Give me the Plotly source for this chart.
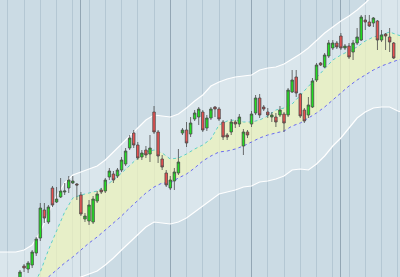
import plotly.graph_objects as go

# ---- data ----
day = list(range(93))
open_ = [39.6, 41.1, 40.8, 41.2, 42.4, 43.9, 46.7, 45.5, 48.9, 47.5,
         48.0, 48.5, 48.9, 49.4, 49.3, 48.2, 45.8, 45.6, 45.5, 47.6,
         48.7, 48.6, 50.0, 50.3, 50.1, 50.7, 51.3, 52.9, 54.4, 53.2,
         52.0, 52.7, 52.3, 56.5, 54.5, 51.8, 50.4, 48.9, 49.6, 50.4,
         54.4, 54.7, 54.3, 55.8, 56.0, 56.5, 54.9, 55.9, 57.0, 56.8,
         55.5, 54.2, 54.5, 55.5, 55.3, 53.1, 54.5, 55.3, 56.4, 57.9,
         57.0, 56.5, 56.0, 56.0, 56.2, 56.3, 56.2, 58.5, 60.0, 58.3,
         56.7, 56.2, 57.0, 59.7, 61.4, 61.0, 62.1, 62.9, 63.4, 64.1,
         62.9, 63.1, 62.5, 63.4, 63.7, 65.7, 65.5, 65.4, 65.6, 63.7,
         64.3, 64.0, 63.4]
high = [40.7, 41.3, 41.6, 42.7, 44.0, 47.4, 47.4, 47.2, 49.1, 49.0,
        49.9, 49.4, 50.1, 50.1, 49.4, 48.5, 46.4, 47.7, 48.1, 48.6,
        48.9, 49.9, 50.9, 50.6, 50.9, 52.0, 52.9, 54.2, 54.7, 53.5,
        52.7, 53.1, 54.2, 57.1, 54.7, 52.2, 50.7, 50.1, 50.9, 52.8,
        54.9, 55.5, 56.0, 56.7, 57.0, 56.7, 56.2, 57.0, 57.1, 57.0,
        55.7, 54.4, 55.8, 55.7, 56.3, 54.8, 54.7, 56.6, 58.2, 58.3,
        57.2, 56.9, 56.5, 56.4, 57.1, 56.5, 58.9, 60.7, 60.7, 58.4,
        56.9, 58.0, 59.9, 61.4, 61.5, 62.4, 63.7, 63.7, 63.6, 64.4,
        63.3, 63.4, 63.7, 64.9, 66.2, 66.2, 66.2, 66.0, 65.7, 64.7,
        64.4, 64.9, 63.5]
low = [39.3, 40.5, 40.4, 40.9, 42.1, 43.6, 45.4, 45.3, 47.0, 47.4,
       47.9, 48.2, 48.4, 49.3, 47.7, 46.1, 45.5, 45.2, 45.3, 47.4,
       48.3, 48.4, 49.7, 49.4, 49.9, 50.5, 51.1, 52.7, 52.9, 51.7,
       51.7, 51.9, 51.5, 54.3, 51.4, 50.7, 49.0, 48.7, 48.7, 50.2,
       54.2, 53.0, 54.0, 55.6, 55.2, 54.5, 54.6, 55.7, 56.0, 55.6,
       53.7, 53.7, 54.2, 54.9, 55.0, 52.2, 53.9, 55.0, 56.2, 55.9,
       56.6, 55.9, 55.5, 55.0, 56.0, 54.5, 56.0, 58.4, 58.0, 55.9,
       55.4, 55.9, 56.9, 59.5, 61.1, 60.9, 61.9, 62.7, 62.8, 62.7,
       62.7, 61.8, 61.7, 63.2, 63.6, 64.7, 65.0, 65.0, 62.7, 63.5,
       62.7, 62.5, 61.8]
close = [40.5, 40.9, 41.4, 42.5, 43.8, 46.9, 45.9, 47.0, 47.2, 47.8,
         48.6, 48.6, 49.7, 49.6, 49.2, 46.3, 46.1, 47.2, 47.8, 48.3,
         48.5, 49.7, 50.6, 49.7, 50.7, 51.7, 52.6, 53.9, 53.2, 51.9,
         52.4, 52.2, 52.9, 54.5, 52.1, 51.0, 49.2, 49.7, 50.5, 51.5,
         54.7, 53.4, 55.4, 56.4, 56.8, 54.7, 55.9, 56.8, 56.8, 55.8,
         54.0, 54.0, 55.5, 55.3, 56.0, 54.5, 54.2, 56.3, 57.9, 56.2,
         56.8, 56.2, 56.2, 55.5, 56.7, 55.4, 58.7, 59.7, 58.4, 56.1,
         55.6, 57.2, 59.6, 61.2, 61.2, 62.2, 63.4, 63.4, 63.0, 62.9,
         63.1, 62.0, 63.4, 64.0, 66.0, 65.5, 65.1, 65.9, 63.7, 64.2,
         64.1, 63.5, 61.9]

band_x = list(range(-5, 96, 2))
upper_env = [42.5, 42.5, 42.5, 42.7, 43.2, 44.5, 46.4, 48.1, 49.4, 50.2,
             50.5, 50.8, 51.1, 51.7, 52.5, 53.3, 54.2, 55.0, 55.7, 56.2,
             56.1, 56.0, 56.3, 56.9, 57.6, 58.2, 59.1, 59.5, 59.8, 60.0,
             60.1, 60.2, 60.7, 60.9, 61.0, 61.3, 61.8, 62.3, 62.9, 63.7,
             64.4, 65.0, 65.6, 66.1, 66.7, 67.4, 68.2, 68.7, 69.1, 69.3, 69.5]
lower_env = [32.0, 32.0, 32.0, 32.2, 32.7, 34.0, 35.9, 37.6, 38.9, 39.7,
             40.0, 40.3, 40.6, 41.2, 41.9, 42.7, 43.5, 44.3, 45.0, 45.5,
             45.4, 45.3, 45.5, 45.9, 46.5, 47.1, 47.7, 48.3, 48.5, 48.7,
             49.0, 49.1, 49.5, 49.6, 49.8, 50.1, 50.7, 50.8, 50.7, 51.3,
             52.1, 53.1, 53.9, 54.9, 55.9, 56.5, 56.9, 57.0, 57.0, 56.6, 56.4]
upper_inner = [34.7, 35.7, 36.7, 37.7, 38.9, 40.5, 42.7, 44.7, 46.5, 47.9,
               48.2, 48.4, 48.6, 49.1, 49.7, 50.4, 51.2, 51.9, 52.5, 52.7,
               52.4, 51.8, 51.9, 52.3, 52.8, 53.2, 53.8, 55.2, 55.6, 55.7,
               55.5, 55.5, 55.7, 56.1, 56.7, 56.9, 57.3, 58.2, 59.1, 60.0,
               60.9, 61.7, 62.2, 62.6, 63.0, 63.6, 64.0, 64.2, 64.5, 64.2, 64.0]
lower_inner = [34.7, 35.5, 36.3, 37.2, 38.1, 39.0, 40.0, 40.7, 41.4, 42.0,
               42.7, 43.4, 44.0, 44.7, 45.4, 46.1, 46.9, 47.7, 48.4, 49.0,
               49.4, 49.4, 49.9, 50.3, 50.9, 51.6, 52.1, 52.5, 52.6, 52.8,
               53.1, 53.5, 53.9, 54.2, 54.4, 54.6, 55.1, 55.4, 55.9, 56.4,
               57.0, 57.7, 58.4, 59.1, 59.7, 60.2, 60.7, 61.1, 61.4, 61.7, 61.9]

week_ticks = list(range(-3, 94, 4))
month_ticks = [15, 37, 57, 79]

X_RANGE = [-4.92, 93.55]
Y_RANGE = [40.0, 67.7]

# ---- figure ----
fig = go.Figure()

# envelope fill
fig.add_trace(go.Scatter(x=band_x, y=upper_env, mode="lines",
                         line=dict(width=0), hoverinfo="skip"))
fig.add_trace(go.Scatter(x=band_x, y=lower_env, mode="lines", fill="tonexty",
                         fillcolor="rgba(255,255,255,0.30)",
                         line=dict(width=0), hoverinfo="skip"))
# inner fill
fig.add_trace(go.Scatter(x=band_x, y=upper_inner, mode="lines",
                         line=dict(width=0), hoverinfo="skip"))
fig.add_trace(go.Scatter(x=band_x, y=lower_inner, mode="lines", fill="tonexty",
                         fillcolor="rgba(242,246,172,0.55)",
                         line=dict(width=0), hoverinfo="skip"))
# lines
fig.add_trace(go.Scatter(x=band_x, y=upper_env, mode="lines",
                         line=dict(color="white", width=1.2)))
fig.add_trace(go.Scatter(x=band_x, y=lower_env, mode="lines",
                         line=dict(color="white", width=1.2)))
fig.add_trace(go.Scatter(x=band_x, y=upper_inner, mode="lines",
                         line=dict(color="#5fd0c6", width=1, dash="dot")))
fig.add_trace(go.Scatter(x=band_x, y=lower_inner, mode="lines",
                         line=dict(color="#6a6cf0", width=1, dash="dot")))

# candles on an overlaid subplot so they sit above the band fills
fig.add_trace(go.Candlestick(
    x=day, open=open_, high=high, low=low, close=close,
    xaxis="x2", yaxis="y2",
    increasing=dict(fillcolor="#22dd22", line=dict(color="#4a4a4a", width=0.8)),
    decreasing=dict(fillcolor="#e85050", line=dict(color="#4a4a4a", width=0.8)),
    whiskerwidth=0,
))

fig.update_layout(
    width=400, height=277,
    margin=dict(l=0, r=0, t=0, b=0),
    paper_bgcolor="#cbdbe4", plot_bgcolor="#cbdbe4",
    showlegend=False,
    boxgap=0.12,
    xaxis=dict(range=X_RANGE, showticklabels=False, ticks="",
               tickmode="array", tickvals=month_ticks,
               showgrid=True, gridcolor="#93a6b4", gridwidth=1.2,
               zeroline=False,
               minor=dict(tickmode="array", tickvals=week_ticks,
                          showgrid=True, gridcolor="#b4c7d3", gridwidth=1)),
    yaxis=dict(range=Y_RANGE, showticklabels=False, showgrid=False,
               zeroline=False, ticks="", showline=True,
               linecolor="#6f7f8a", linewidth=3),
    xaxis2=dict(range=X_RANGE, overlaying="x", visible=False,
                rangeslider=dict(visible=False)),
    yaxis2=dict(range=Y_RANGE, overlaying="y", visible=False),
)

fig.write_html("out.html")
